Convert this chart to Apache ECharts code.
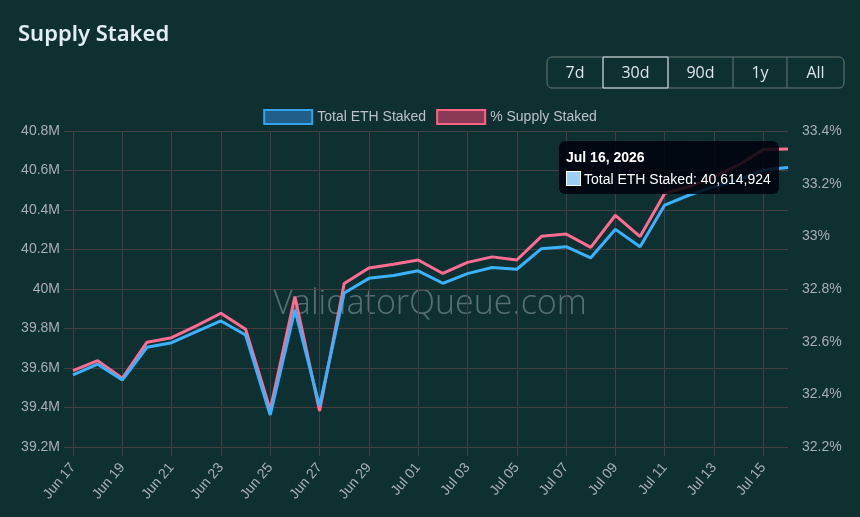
<!DOCTYPE html>
<html>
<head>
<meta charset="utf-8">
<title>Supply Staked</title>
<script src="https://cdn.jsdelivr.net/npm/echarts@6/dist/echarts.min.js"></script>
<style>
  html, body { margin: 0; padding: 0; background: #0e3031; }
  #chart { width: 860px; height: 517px; }
</style>
</head>
<body>
<div id="chart"></div>
<script>
// daily points, Jun 17 .. Jul 16 2026
var dates = [
  '2026-06-17', '2026-06-18', '2026-06-19', '2026-06-20', '2026-06-21', '2026-06-22',
  '2026-06-23', '2026-06-24', '2026-06-25', '2026-06-26', '2026-06-27', '2026-06-28',
  '2026-06-29', '2026-06-30', '2026-07-01', '2026-07-02', '2026-07-03', '2026-07-04',
  '2026-07-05', '2026-07-06', '2026-07-07', '2026-07-08', '2026-07-09', '2026-07-10',
  '2026-07-11', '2026-07-12', '2026-07-13', '2026-07-14', '2026-07-15', '2026-07-16'
];

var totalStaked = [
  39565000, 39619000, 39539000, 39705000, 39728000, 39784000,
  39838000, 39767000, 39362000, 39894000, 39408000, 39980000,
  40054000, 40068000, 40092000, 40029000, 40078000, 40109000,
  40100000, 40204000, 40214000, 40158000, 40302000, 40214000,
  40425000, 40476000, 40518000, 40552000, 40603000, 40614924
];

var pctStaked = [
  32.490, 32.528, 32.461, 32.598, 32.615, 32.660,
  32.708, 32.647, 32.341, 32.771, 32.337, 32.821,
  32.880, 32.894, 32.910, 32.859, 32.901, 32.922,
  32.910, 33.000, 33.009, 32.958, 33.080, 32.999,
  33.163, 33.189, 33.226, 33.271, 33.330, 33.332
];

var ranges = ['7d', '30d', '90d', '1y', 'All'];
var activeRange = '30d';

var months = ['Jan', 'Feb', 'Mar', 'Apr', 'May', 'Jun', 'Jul', 'Aug', 'Sep', 'Oct', 'Nov', 'Dec'];
function shortDate(s) {
  var p = s.split('-');
  return months[+p[1] - 1] + ' ' + p[2];
}
function longDate(s) {
  var p = s.split('-');
  return months[+p[1] - 1] + ' ' + (+p[2]) + ', ' + p[0];
}

var blue = '#36a2eb', pink = '#ff6384';
var gridCol = '#453e43';
var labelCol = '#a9aeb6';
var font = '"Liberation Sans", Arial, sans-serif';

// range buttons (top right)
var btnX = [547, 603, 668, 733, 787, 844];
var btnGraphics = [{
  type: 'rect',
  shape: { x: 547, y: 57, width: 297, height: 31, r: 5 },
  style: { fill: 'none', stroke: '#667878', lineWidth: 1 }
}];
ranges.forEach(function (r, i) {
  if (i > 0) {
    btnGraphics.push({
      type: 'line',
      shape: { x1: btnX[i], y1: 57, x2: btnX[i], y2: 88 },
      style: { stroke: '#667878', lineWidth: 1 }
    });
  }
  if (r === activeRange) {
    btnGraphics.push({
      type: 'rect',
      shape: { x: btnX[i], y: 57, width: btnX[i + 1] - btnX[i], height: 31 },
      style: { fill: 'none', stroke: '#d4dde2', lineWidth: 1 },
      z: 101
    });
  }
  btnGraphics.push({
    type: 'text',
    x: (btnX[i] + btnX[i + 1]) / 2,
    y: 73,
    style: {
      text: r, textAlign: 'center', textVerticalAlign: 'middle',
      fill: '#dde4ea', font: '16px "Open Sans", "Noto Sans", sans-serif'
    }
  });
});

var chart = echarts.init(document.getElementById('chart'));

chart.setOption({
  backgroundColor: '#0e3031',
  animation: false,
  title: {
    text: 'Supply Staked',
    left: 13,
    top: 19,
    textStyle: {
      color: '#e3edf5', fontSize: 22, fontWeight: 600,
      fontFamily: '"Noto Sans", "Open Sans", sans-serif'
    }
  },
  legend: {
    top: 104,
    left: 'center',
    itemWidth: 48,
    itemHeight: 14,
    itemGap: 10,
    icon: 'rect',
    textStyle: { color: '#bcc1c8', fontSize: 14, fontFamily: font },
    data: [
      { name: 'Total ETH Staked', itemStyle: { color: '#1f5f8a', borderColor: blue, borderWidth: 2 } },
      { name: '% Supply Staked', itemStyle: { color: '#8a3a55', borderColor: pink, borderWidth: 2 } }
    ]
  },
  grid: { left: 73, right: 72, top: 131, bottom: 70 },
  tooltip: {
    trigger: 'axis',
    alwaysShowContent: true,
    axisPointer: { type: 'none' },
    backgroundColor: 'rgba(0,2,12,0.86)',
    borderWidth: 0,
    padding: [8, 8, 7, 7],
    extraCssText: 'box-shadow:none;border-radius:6px;',
    position: function (point, params, dom, rect, size) {
      return [point[0] - size.contentSize[0] - 9, point[1] - 27];
    },
    formatter: function (params) {
      var p = params[0];
      return '<div style="font:bold 14px ' + font.replace(/"/g, "'") + ';color:#fff;margin-bottom:6px">' +
        longDate(p.name) + '</div>' +
        '<div style="font:14px ' + font.replace(/"/g, "'") + ';color:#fff;white-space:nowrap">' +
        '<span style="display:inline-block;width:13px;height:13px;background:#9bd0f5;border:1px solid #fff;vertical-align:-2px;margin-right:3px"></span>' +
        p.seriesName + ': ' + p.value.toLocaleString('en-US') + '</div>';
    }
  },
  xAxis: {
    type: 'category',
    data: dates,
    boundaryGap: false,
    axisLine: { lineStyle: { color: gridCol } },
    axisTick: { show: true, interval: 1, length: 9, lineStyle: { color: gridCol } },
    splitLine: { show: true, interval: 1, lineStyle: { color: gridCol } },
    axisLabel: {
      interval: 1, rotate: 50, margin: 18,
      color: labelCol, fontSize: 14, fontFamily: font,
      formatter: shortDate
    }
  },
  yAxis: [{
    type: 'value',
    min: 39200000, max: 40800000, interval: 200000,
    axisLine: { show: true, lineStyle: { color: gridCol } },
    axisTick: { show: true, length: 9, lineStyle: { color: gridCol } },
    splitLine: { lineStyle: { color: gridCol } },
    axisLabel: {
      margin: 13, color: labelCol, fontSize: 14, fontFamily: font,
      formatter: function (v) { return parseFloat((v / 1e6).toFixed(1)) + 'M'; }
    }
  }, {
    type: 'value',
    position: 'right',
    min: 32.2, max: 33.4, interval: 0.2,
    axisLine: { show: false },
    axisTick: { show: true, length: 5, lineStyle: { color: '#1c2426', type: 'dotted' } },
    splitLine: { show: false },
    axisLabel: {
      margin: 14, color: labelCol, fontSize: 14, fontFamily: font,
      formatter: function (v) { return parseFloat(v.toFixed(1)) + '%'; }
    }
  }],
  graphic: btnGraphics.concat([{
    type: 'text',
    left: 'center',
    top: 287,
    z: 0,
    silent: true,
    style: {
      text: 'ValidatorQueue.com',
      fill: 'rgba(190,200,205,0.42)',
      font: '300 34px "Open Sans", "Noto Sans", sans-serif'
    }
  }]),
  series: [{
    name: 'Total ETH Staked',
    type: 'line',
    yAxisIndex: 0,
    data: totalStaked,
    symbol: 'none',
    z: 4,
    lineStyle: { color: blue, width: 3 },
    itemStyle: { color: blue }
  }, {
    name: '% Supply Staked',
    type: 'line',
    yAxisIndex: 1,
    data: pctStaked,
    symbol: 'none',
    z: 3,
    lineStyle: { color: pink, width: 3 },
    itemStyle: { color: pink }
  }]
});

chart.dispatchAction({ type: 'showTip', seriesIndex: 0, dataIndex: dates.length - 1 });
</script>
</body>
</html>
